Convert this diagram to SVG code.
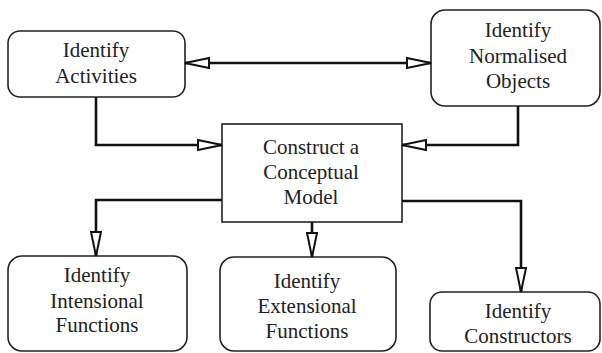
<svg xmlns="http://www.w3.org/2000/svg" width="602" height="353" viewBox="0 0 602 353">
<style>
.box{fill:#fff;stroke:#222;stroke-width:1.6}
.lbl{font-size:21px;fill:#222;text-anchor:middle}
.con{fill:none;stroke:#111;stroke-width:2.6}
</style>
<defs>
<marker id="arr" viewBox="0 0 26 12" markerWidth="26" markerHeight="12" refX="25" refY="6" orient="auto-start-reverse" markerUnits="userSpaceOnUse">
<path d="M1,1 L25,6 L1,11 Z" fill="#fff" stroke="#111" stroke-width="2"/>
</marker>
</defs>
<rect width="602" height="353" fill="#fff"/>
<g font-family="'Liberation Serif', Tinos, 'Times New Roman', Times, 'DejaVu Serif', serif">
<g id="activities">
<rect class="box" x="8" y="31" width="177" height="66" rx="12"/>
<text class="lbl" x="96" y="57">Identify</text>
<text class="lbl" x="96" y="83">Activities</text>
</g>
<g id="normalised">
<rect class="box" x="431" y="10" width="169" height="96" rx="14"/>
<text class="lbl" x="518" y="37">Identify</text>
<text class="lbl" x="518" y="63">Normalised</text>
<text class="lbl" x="518" y="88">Objects</text>
</g>
<g id="conceptual">
<rect class="box" x="222" y="124" width="180" height="98"/>
<text class="lbl" x="311" y="154">Construct a</text>
<text class="lbl" x="311" y="179">Conceptual</text>
<text class="lbl" x="311" y="204">Model</text>
</g>
<g id="intensional">
<rect class="box" x="8" y="256" width="179" height="95" rx="14"/>
<text class="lbl" x="97" y="282">Identify</text>
<text class="lbl" x="97" y="308">Intensional</text>
<text class="lbl" x="97" y="332">Functions</text>
</g>
<g id="extensional">
<rect class="box" x="220" y="257" width="176" height="94" rx="14"/>
<text class="lbl" x="307" y="288">Identify</text>
<text class="lbl" x="307" y="313">Extensional</text>
<text class="lbl" x="307" y="338">Functions</text>
</g>
<g id="constructors">
<rect class="box" x="430" y="292" width="170" height="59" rx="12"/>
<text class="lbl" x="518" y="318">Identify</text>
<text class="lbl" x="518" y="343">Constructors</text>
</g>
</g>
<g id="connectors">
<path class="con" d="M185,63 H431" marker-start="url(#arr)" marker-end="url(#arr)"/>
<path class="con" d="M96,97 V145 H222" marker-end="url(#arr)"/>
<path class="con" d="M518,106 V145 H402" marker-end="url(#arr)"/>
<path class="con" d="M222,200 H96 V256" marker-end="url(#arr)"/>
<path class="con" d="M312,222 V257" marker-end="url(#arr)"/>
<path class="con" d="M402,201 H521 V292" marker-end="url(#arr)"/>
</g>
</svg>
